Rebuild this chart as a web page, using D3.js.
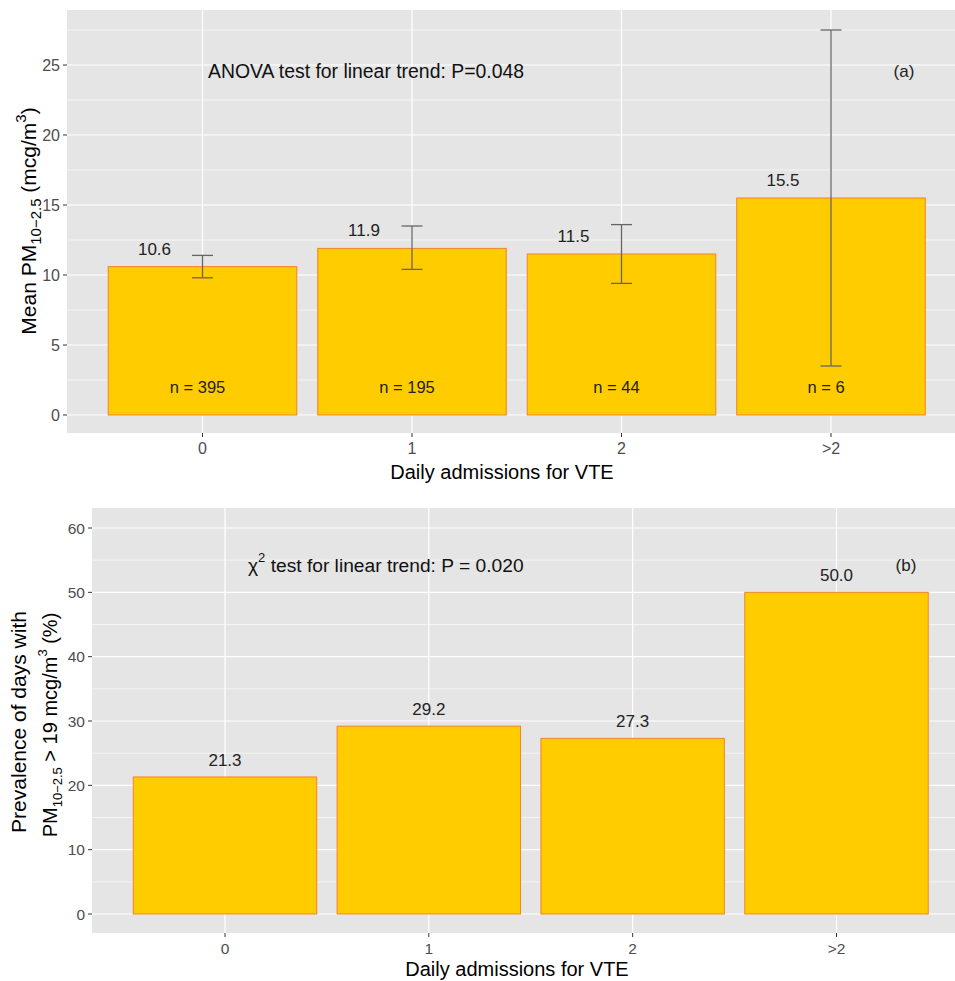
<!DOCTYPE html>
<html><head><meta charset="utf-8">
<script src="https://cdn.jsdelivr.net/npm/d3@7"></script>
<style>body{margin:0;background:#fff}svg{display:block;font-family:"Liberation Sans",Arial,sans-serif}</style>
</head><body>
<script>
const categories = ["0", "1", "2", ">2"];
const meanPM = [10.6, 11.9, 11.5, 15.5];
const errLow = [9.8, 10.4, 9.4, 3.5];
const errHigh = [11.4, 13.5, 13.6, 27.5];
const nLabels = ["n = 395", "n = 195", "n = 44", "n = 6"];
const prevalence = [21.3, 29.2, 27.3, 50.0];
const topTicks = [0, 5, 10, 15, 20, 25];
const bottomTicks = [0, 10, 20, 30, 40, 50, 60];

const W = 955, H = 981;
const svg = d3.select("body").append("svg").attr("width", W).attr("height", H);

const BG = "#e5e5e5", FILL = "#ffcc00", STROKE = "#f5822a";

function panel(cfg) {
  const g = svg.append("g");
  const x = d3.scaleLinear().domain([0, 3]).range(cfg.xr);
  const y = d3.scaleLinear().domain([0, cfg.ymaj]).range(cfg.yr);
  const step = x(1) - x(0);
  const bw = step * 0.9;
  const [pl, pr, pt, pb] = cfg.box;
  g.append("rect").attr("x", pl).attr("y", pt).attr("width", pr - pl).attr("height", pb - pt).attr("fill", BG);
  const minor = d3.range(cfg.minorStep, y.invert(pt), cfg.minorStep * 2);
  g.selectAll(".mn").data(minor).enter().append("line")
    .attr("x1", pl).attr("x2", pr).attr("y1", d => y(d)).attr("y2", d => y(d))
    .attr("stroke", "#fff").attr("stroke-width", 0.6);
  g.selectAll(".mj").data(cfg.ticks).enter().append("line")
    .attr("x1", pl).attr("x2", pr).attr("y1", d => y(d)).attr("y2", d => y(d))
    .attr("stroke", "#fff").attr("stroke-width", 1.2);
  g.selectAll(".vg").data(categories).enter().append("line")
    .attr("x1", (d, i) => x(i)).attr("x2", (d, i) => x(i)).attr("y1", pt).attr("y2", pb)
    .attr("stroke", "#fff").attr("stroke-width", 1.2);
  g.selectAll(".bar").data(cfg.values).enter().append("rect")
    .attr("x", (d, i) => x(i) - bw / 2).attr("width", bw)
    .attr("y", d => y(d)).attr("height", d => y(0) - y(d))
    .attr("fill", FILL).attr("stroke", STROKE).attr("stroke-width", 1);
  g.selectAll(".yt").data(cfg.ticks).enter().append("line")
    .attr("x1", pl - 4).attr("x2", pl).attr("y1", d => y(d)).attr("y2", d => y(d))
    .attr("stroke", "#333").attr("stroke-width", 1);
  g.selectAll(".yl").data(cfg.ticks).enter().append("text")
    .attr("x", pl - 7).attr("y", d => y(d)).attr("dy", "0.36em")
    .attr("text-anchor", "end").attr("font-size", cfg.tickFs).attr("fill", "#4d4d4d")
    .text(d => d);
  g.selectAll(".xt").data(categories).enter().append("line")
    .attr("x1", (d, i) => x(i)).attr("x2", (d, i) => x(i)).attr("y1", pb).attr("y2", pb + 4)
    .attr("stroke", "#333").attr("stroke-width", 1);
  g.selectAll(".xl").data(categories).enter().append("text")
    .attr("x", (d, i) => x(i)).attr("y", pb + 21)
    .attr("text-anchor", "middle").attr("font-size", cfg.tickFs).attr("fill", "#4d4d4d")
    .text(d => d);
  g.append("text").attr("x", cfg.xTitleX).attr("y", cfg.xTitleY).attr("text-anchor", "middle")
    .attr("font-size", 20).attr("fill", "#000").text("Daily admissions for VTE");
  return { g, x, y, bw };
}

// ---- Panel (a)
const A = panel({
  xr: [202.5, 831], yr: [415, 65], ymaj: 25, box: [67, 955, 10, 433],
  minorStep: 2.5, ticks: topTicks, values: meanPM, tickFs: 16,
  xTitleX: 502, xTitleY: 479
});
const eb = A.g.selectAll(".eb").data(meanPM).enter().append("g");
eb.append("line").attr("x1", (d, i) => A.x(i)).attr("x2", (d, i) => A.x(i))
  .attr("y1", (d, i) => A.y(errLow[i])).attr("y2", (d, i) => A.y(errHigh[i]))
  .attr("stroke", "#666").attr("stroke-width", 1.3);
eb.append("line").attr("x1", (d, i) => A.x(i) - 10.5).attr("x2", (d, i) => A.x(i) + 10.5)
  .attr("y1", (d, i) => A.y(errLow[i])).attr("y2", (d, i) => A.y(errLow[i]))
  .attr("stroke", "#666").attr("stroke-width", 1.3);
eb.append("line").attr("x1", (d, i) => A.x(i) - 10.5).attr("x2", (d, i) => A.x(i) + 10.5)
  .attr("y1", (d, i) => A.y(errHigh[i])).attr("y2", (d, i) => A.y(errHigh[i]))
  .attr("stroke", "#666").attr("stroke-width", 1.3);
A.g.selectAll(".vl").data(meanPM).enter().append("text")
  .attr("x", (d, i) => A.x(i) - 48).attr("y", d => A.y(d + 1.3)).attr("dy", "0.36em")
  .attr("text-anchor", "middle").attr("font-size", 17).attr("fill", "#222")
  .text(d => d.toFixed(1));
A.g.selectAll(".nl").data(nLabels).enter().append("text")
  .attr("x", (d, i) => A.x(i) - 5).attr("y", A.y(2)).attr("dy", "0.36em")
  .attr("text-anchor", "middle").attr("font-size", 16.5).attr("fill", "#222")
  .text(d => d);
A.g.append("text").attr("x", 208).attr("y", A.y(24.6)).attr("dy", "0.36em")
  .attr("font-size", 19.4).attr("fill", "#111").text("ANOVA test for linear trend: P=0.048");
A.g.append("text").attr("x", 904).attr("y", A.y(24.6)).attr("dy", "0.36em")
  .attr("text-anchor", "middle").attr("font-size", 17).attr("fill", "#222").text("(a)");
const ta = svg.append("text").attr("transform", "translate(36,221) rotate(-90)")
  .attr("text-anchor", "middle").attr("font-size", 21).attr("fill", "#000");
ta.append("tspan").text("Mean PM");
ta.append("tspan").attr("font-size", 15).attr("dy", 5).text("10−2.5");
ta.append("tspan").attr("dy", -5).text(" (mcg/m");
ta.append("tspan").attr("font-size", 15).attr("dy", -10).text("3");
ta.append("tspan").attr("dy", 10).text(")");

// ---- Panel (b)
const B = panel({
  xr: [225, 836.5], yr: [914, 528], ymaj: 60, box: [92, 955, 508, 933],
  minorStep: 5, ticks: bottomTicks, values: prevalence, tickFs: 15.5,
  xTitleX: 517, xTitleY: 976
});
B.g.selectAll(".vl").data(prevalence).enter().append("text")
  .attr("x", (d, i) => B.x(i)).attr("y", d => B.y(d + 2.7)).attr("dy", "0.36em")
  .attr("text-anchor", "middle").attr("font-size", 17).attr("fill", "#222")
  .text(d => d.toFixed(1));
const chi = B.g.append("text").attr("x", 248).attr("y", B.y(54.3)).attr("dy", "0.36em")
  .attr("font-size", 19.2).attr("fill", "#111");
chi.append("tspan").text("χ");
chi.append("tspan").attr("font-size", 13).attr("dy", -10).text("2");
chi.append("tspan").attr("dy", 10).text(" test for linear trend: P = 0.020");
B.g.append("text").attr("x", 906).attr("y", B.y(54.3)).attr("dy", "0.36em")
  .attr("text-anchor", "middle").attr("font-size", 17).attr("fill", "#222").text("(b)");
const tb = svg.append("text").attr("transform", "translate(26,722) rotate(-90)")
  .attr("text-anchor", "middle").attr("font-size", 21).attr("fill", "#000");
tb.append("tspan").text("Prevalence of days with");
const tb2 = svg.append("text").attr("transform", "translate(57,725) rotate(-90)")
  .attr("text-anchor", "middle").attr("font-size", 20).attr("fill", "#000");
tb2.append("tspan").text("PM");
tb2.append("tspan").attr("font-size", 13).attr("dy", 5).text("10−2.5");
tb2.append("tspan").attr("dy", -5).text(" > 19 mcg/m");
tb2.append("tspan").attr("font-size", 13).attr("dy", -10).text("3");
tb2.append("tspan").attr("dy", 10).text(" (%)");
</script>
</body></html>
